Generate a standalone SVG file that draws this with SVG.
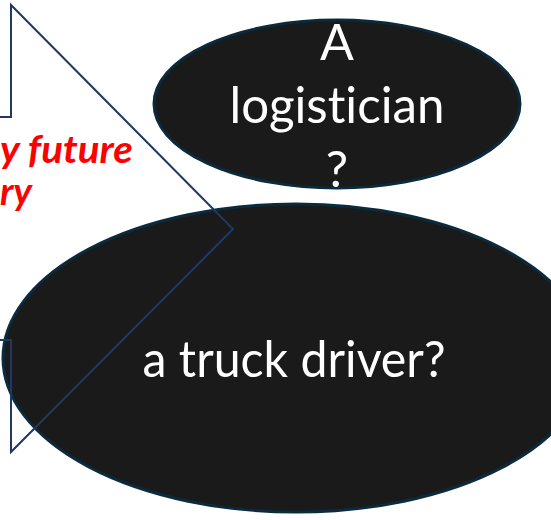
<svg xmlns="http://www.w3.org/2000/svg" width="551" height="520" viewBox="0 0 551 520">
  <style>
    .bubble { fill: #1a1a1a; stroke: #0b2a3c; stroke-width: 3; }
    .label { fill: #ffffff; font-family: Lato, "Open Sans", "Liberation Sans", sans-serif; font-size: 50px; text-anchor: middle; font-variant-ligatures: none; }
    .note { fill: #ff0000; font-family: Lato, "Open Sans", "Liberation Sans", sans-serif; font-size: 38px; font-weight: bold; font-style: italic; font-variant-ligatures: none; }
    .arrow { fill: none; stroke: #1f3864; stroke-width: 2; stroke-linejoin: miter; }
  </style>

  <!-- caption inside the pointer arrow -->
  <g id="note">
    <text class="note" x="0" y="163" textLength="133" lengthAdjust="spacingAndGlyphs">y future</text>
    <text class="note" x="32" y="205" text-anchor="end">ry</text>
  </g>

  <g id="logistician">
    <ellipse class="bubble" cx="337" cy="104" rx="183" ry="84"/>
    <text class="label" x="337" y="60">A</text>
    <text class="label" x="337" y="123" textLength="215" lengthAdjust="spacingAndGlyphs">logistician</text>
    <text class="label" x="337" y="187">?</text>
  </g>

  <g id="truck-driver">
    <ellipse class="bubble" cx="296" cy="358" rx="293" ry="154"/>
    <text class="label" x="294" y="377" textLength="303" lengthAdjust="spacingAndGlyphs">a truck driver?</text>
  </g>

  <!-- outline arrow pointing right, open on its left edge, drawn over the bubbles -->
  <g id="connectors">
    <path class="arrow" d="M0,117 H11 V5 L233,229 L11,452 V340 H0"/>
  </g>
</svg>
